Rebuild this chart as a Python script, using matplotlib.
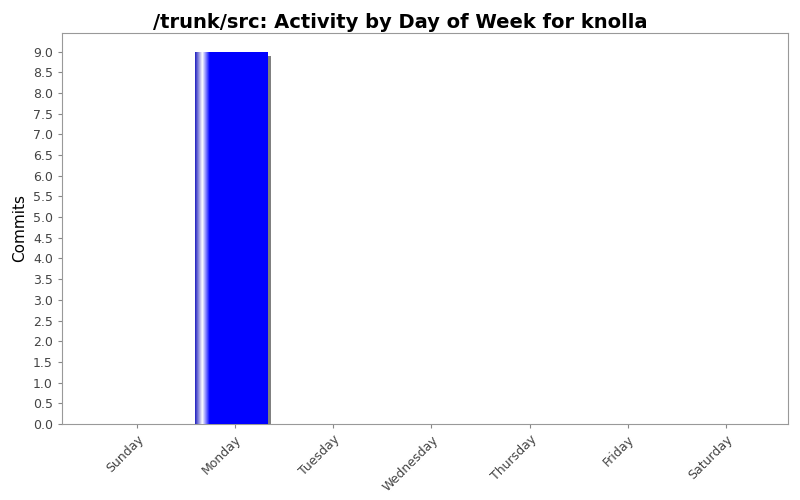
import numpy as np
import matplotlib.pyplot as plt
from matplotlib.colors import LinearSegmentedColormap

days = ['Sunday', 'Monday', 'Tuesday', 'Wednesday', 'Thursday', 'Friday', 'Saturday']
commits = [0, 9, 0, 0, 0, 0, 0]
yticks = np.arange(0, 9.01, 0.5)

fig = plt.figure(figsize=(8, 5), dpi=100)
ax = fig.add_axes([0.0775, 0.152, 0.9075, 0.782])
ax.set_xlim(-0.76, 6.63)
ax.set_ylim(0, 9.45)

x = np.arange(len(days))
w = 0.74
grad = LinearSegmentedColormap.from_list(
    'g', [(0, '#2020c0'), (0.1, '#ffffff'), (0.2, '#0000ff'), (1, '#0000ff')])
for xi, v in zip(x, commits):
    if v <= 0:
        continue
    xc = xi - 0.04
    # shadow
    ax.bar(xc + 0.04, v - 0.1, width=w, bottom=0, color='#808080', zorder=2)
    bar = ax.bar(xc, v, width=w, color='none', zorder=3)[0]
    im = ax.imshow(np.linspace(0, 1, 256)[None, :], cmap=grad, aspect='auto',
                   extent=[xc - w / 2, xc + w / 2, 0, v], zorder=3)
    im.set_clip_path(bar)

ax.set_xticks(x)
ax.set_xticklabels(days, rotation=45, ha='right', rotation_mode='anchor',
                   fontsize=9, color='#444444')
ax.set_yticks(yticks)
ax.set_yticklabels([f'{t:.1f}' for t in yticks], fontsize=9, color='#444444')
ax.set_ylabel('Commits', fontsize=11)
for s in ax.spines.values():
    s.set_color('#999999')
ax.tick_params(colors='#888888', labelcolor='#444444', length=3)
fig.suptitle('/trunk/src: Activity by Day of Week for knolla', fontsize=14,
             fontweight='bold', y=0.975)
fig.savefig('out.png', dpi=100)
